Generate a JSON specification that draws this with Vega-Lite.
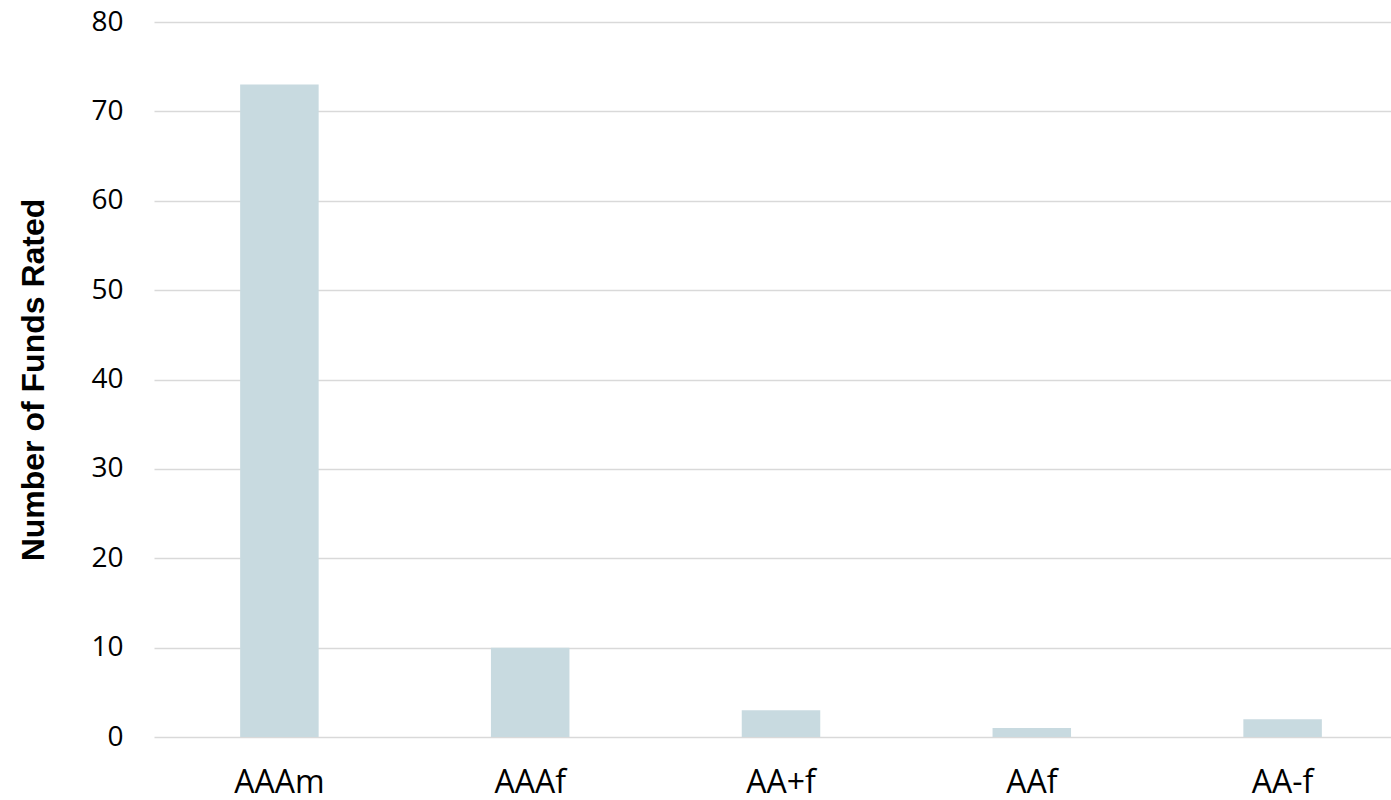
{
  "$schema": "https://vega.github.io/schema/vega-lite/v6.json",
  "autosize": {"type": "none"},
  "padding": {"left": 154, "top": 22, "right": 0, "bottom": 63},
  "width": 1254,
  "height": 715,
  "background": "white",
  "config": {
    "view": {"stroke": null},
    "font": "Open Sans"
  },
  "data": {
    "values": [
      {"rating": "AAAm", "funds": 73},
      {"rating": "AAAf", "funds": 10},
      {"rating": "AA+f", "funds": 3},
      {"rating": "AAf", "funds": 1},
      {"rating": "AA-f", "funds": 2}
    ]
  },
  "mark": {"type": "bar", "color": "#c8dae0"},
  "encoding": {
    "x": {
      "field": "rating",
      "type": "nominal",
      "sort": null,
      "scale": {"paddingInner": 0.687, "paddingOuter": 0.3435},
      "axis": {
        "title": null,
        "labelAngle": 0,
        "labelFont": "Open Sans",
        "labelFontSize": 32,
        "labelColor": "#000000",
        "labelPadding": 30,
        "domain": false,
        "ticks": false,
        "grid": false
      }
    },
    "y": {
      "field": "funds",
      "type": "quantitative",
      "scale": {"domain": [0, 80], "nice": false},
      "axis": {
        "values": [0, 10, 20, 30, 40, 50, 60, 70, 80],
        "title": "Number of Funds Rated",
        "titleFont": "Liberation Sans",
        "titleFontSize": 32,
        "titleFontWeight": "bold",
        "titleColor": "#000000",
        "titlePadding": 40,
        "labelFont": "Open Sans",
        "labelFontSize": 28,
        "labelColor": "#000000",
        "labelPadding": 31,
        "domain": false,
        "ticks": false,
        "grid": true,
        "gridColor": "#d9d9d9",
        "gridWidth": 1.5,
        "zindex": 0
      }
    }
  }
}
